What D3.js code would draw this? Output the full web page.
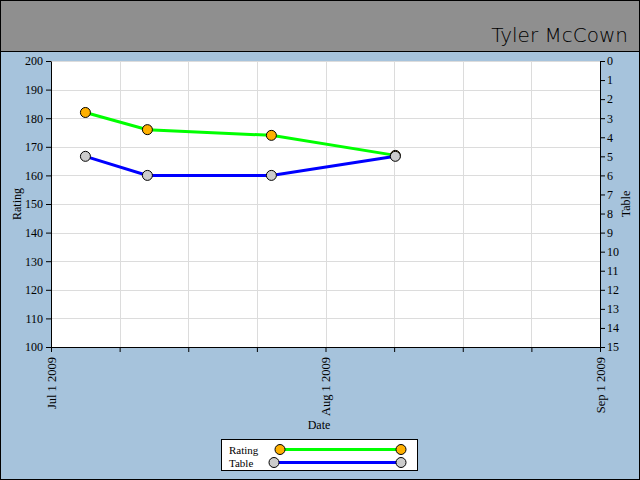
<!DOCTYPE html>
<html><head><meta charset="utf-8">
<script src="https://cdn.jsdelivr.net/npm/d3@7/dist/d3.min.js"></script>
<style>body{margin:0;padding:0;background:#fff}svg{display:block}</style>
</head><body>
<script>
const titleText = "Tyler McCown";
const dates = ["2009-07-05","2009-07-12","2009-07-26","2009-08-09"];
const ratingValues = [182, 176, 174, 167];
const tableValues = [5, 6, 6, 5];
const monthTicks = ["2009-07-01","2009-08-01","2009-09-01"];
const monthLabels = ["Jul 1 2009","Aug 1 2009","Sep 1 2009"];
const ratingDomain = [100, 200];
const tableDomain = [0, 15];
const seriesNames = ["Rating","Table"];

const W = 640, H = 480;
const m = {left:51, right:600, top:61, bottom:347};
const parse = d3.utcParse("%Y-%m-%d");
const svg = d3.select("body").append("svg").attr("width", W).attr("height", H);
const font = "'Liberation Serif', serif";

svg.append("rect").attr("x",0).attr("y",0).attr("width",W).attr("height",H).attr("fill","#a6c3dc");
svg.append("rect").attr("x",0).attr("y",0).attr("width",W).attr("height",51).attr("fill","#8f8f8f");
svg.append("line").attr("x1",0).attr("x2",W).attr("y1",51.5).attr("y2",51.5).attr("stroke","#000");
svg.append("rect").attr("x",0.5).attr("y",0.5).attr("width",W-1).attr("height",H-1).attr("fill","none").attr("stroke","#000");

svg.append("text").attr("x",628).attr("y",42).attr("text-anchor","end")
  .attr("font-family","'DejaVu Sans', sans-serif").attr("font-weight",200).attr("font-size",20)
  .attr("fill","#000").text(titleText);

const mt = monthTicks.map(parse);
const x = d3.scaleUtc().domain([mt[0], mt[mt.length-1]]).range([m.left, m.right]);
const yR = d3.scaleLinear().domain(ratingDomain).range([m.bottom, m.top]);
const yT = d3.scaleLinear().domain(tableDomain).range([m.top, m.bottom]);

// quarter-month tick dates
const xTicks = [];
for (let i = 0; i < mt.length-1; i++) {
  const a = +mt[i], b = +mt[i+1];
  for (let k = 0; k < 4; k++) xTicks.push(new Date(a + (b-a)*k/4));
}
xTicks.push(mt[mt.length-1]);

svg.append("rect").attr("x",m.left).attr("y",m.top).attr("width",m.right-m.left).attr("height",m.bottom-m.top).attr("fill","#fff");

const grid = svg.append("g").attr("stroke","#dcdcdc").attr("stroke-width",1);
yR.ticks(10).forEach(v => grid.append("line").attr("x1",m.left).attr("x2",m.right)
  .attr("y1",Math.round(yR(v))+0.5).attr("y2",Math.round(yR(v))+0.5));
xTicks.forEach(d => grid.append("line").attr("y1",m.top).attr("y2",m.bottom)
  .attr("x1",Math.round(x(d))+0.5).attr("x2",Math.round(x(d))+0.5));

// axes
const gL = svg.append("g").attr("transform",`translate(${m.left},0)`)
  .call(d3.axisLeft(yR).ticks(10).tickSize(5).tickSizeOuter(0).tickPadding(3));
const gR = svg.append("g").attr("transform",`translate(${m.right},0)`)
  .call(d3.axisRight(yT).ticks(15).tickSize(5).tickSizeOuter(0).tickPadding(2));
const gB = svg.append("g").attr("transform",`translate(0,${m.bottom})`)
  .call(d3.axisBottom(x).tickValues(xTicks).tickSize(5).tickSizeOuter(0)
    .tickFormat(d => { const i = mt.findIndex(t => +t === +d); return i >= 0 ? monthLabels[i] : ""; }));
[gL,gR,gB].forEach(g => {
  g.selectAll("text").attr("font-family",font).attr("font-size",12).attr("fill","#000");
  g.selectAll("line,path").attr("stroke","#000");
});
gB.selectAll("text").attr("transform","rotate(-90)").attr("text-anchor","end")
  .attr("x",-10).attr("y",0).attr("dy","0.35em").attr("font-size",12.5);

svg.append("text").attr("transform",`translate(21,${(m.top+m.bottom)/2}) rotate(-90)`)
  .attr("text-anchor","middle").attr("font-family",font).attr("font-size",12).text("Rating");
svg.append("text").attr("transform",`translate(630,${(m.top+m.bottom)/2}) rotate(-90)`)
  .attr("text-anchor","middle").attr("font-family",font).attr("font-size",12).text("Table");
svg.append("text").attr("x",319).attr("y",429).attr("text-anchor","middle")
  .attr("font-family",font).attr("font-size",12).text("Date");

const pts = dates.map(parse);
const colors = {line:["#00ff00","#0000ff"], fill:["#ffb000","#cccccc"]};
const series = [
  {vals: ratingValues, y: yR},
  {vals: tableValues, y: yT}
];
[0,1].forEach(si => {
  const s = series[si];
  svg.append("path").datum(s.vals)
    .attr("d", d3.line().x((d,i)=>x(pts[i])-1).y(d=>s.y(d)))
    .attr("fill","none").attr("stroke",colors.line[si]).attr("stroke-width",3);
});
[0,1].forEach(si => {
  const s = series[si];
  svg.append("g").selectAll("circle").data(s.vals).join("circle")
    .attr("cx",(d,i)=>x(pts[i])-1).attr("cy",d=>s.y(d)).attr("r",5)
    .attr("fill",colors.fill[si]).attr("stroke","#000").attr("stroke-width",1);
});

// legend
const lg = svg.append("g");
lg.append("rect").attr("x",221.5).attr("y",439.5).attr("width",196).attr("height",31)
  .attr("fill","#fff").attr("stroke","#000");
seriesNames.forEach((n,i) => {
  const yy = 449.5 + i*13;
  lg.append("text").attr("x",229).attr("y",yy+4).attr("font-family",font).attr("font-size",11).text(n);
  const x1 = i===0 ? 280 : 274, x2 = 401;
  lg.append("line").attr("x1",x1).attr("x2",x2).attr("y1",yy).attr("y2",yy)
    .attr("stroke",colors.line[i]).attr("stroke-width",3);
  [x1,x2].forEach(cx => lg.append("circle").attr("cx",cx).attr("cy",yy).attr("r",5)
    .attr("fill",colors.fill[i]).attr("stroke","#000"));
});
</script>
</body></html>
